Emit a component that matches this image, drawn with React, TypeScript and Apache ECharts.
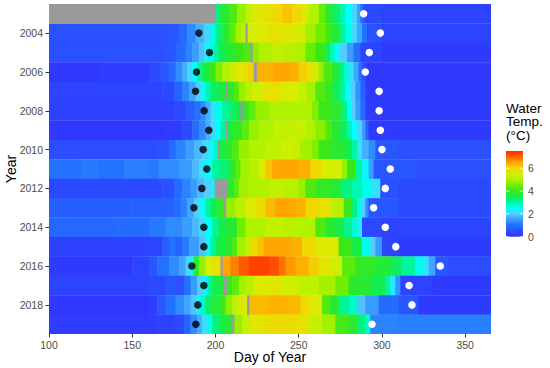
import React, { useEffect, useRef } from "react";
import * as echarts from "echarts";

// ---- data ----
const YEARS = ["2003","2004","2005","2006","2007","2008","2009","2010","2011","2012","2013","2014","2015","2016","2017","2018","2019"];
const X_TICKS = [100, 150, 200, 250, 300, 350];
const LEGEND_TICKS = [0, 2, 4, 6];
const LEGEND_TITLE = ["Water", "Temp.", "(°C)"];
const X_TITLE = "Day of Year";
const Y_TITLE = "Year";
const TEMP_MIN = 0;
const TEMP_MAX = 7.5;
const DAY_MIN = 100;
const DAY_MAX = 365.5;

// [start day, water temperature] ; null = no data (grey)
const T2003 = [[100,null],[200,3.2],[203,3.8],[208,4.2],[213,4.8],[218,5.2],[222,5.6],[228,5.8],[235,6.0],[240,6.2],[246,6.0],[252,5.6],[256,5.0],[262,4.4],[266,3.8],[271,3.3],[275,2.9],[278,2.5],[282,2.1],[285,1.5],[287,0.9],[289,0.4],[300,0.3]];
const T2004 = [[100,0.5],[172,0.6],[178,0.9],[183,1.3],[188,1.7],[193,2.1],[197,2.6],[200,3.2],[204,3.8],[208,4.3],[212,4.9],[216,5.2],[218,null],[219,5.5],[226,5.6],[232,5.8],[238,5.7],[245,5.6],[250,5.4],[254,4.9],[260,4.5],[266,4.1],[270,3.7],[275,3.0],[278,2.6],[282,2.1],[285,1.6],[288,1.0],[291,0.5],[300,0.3]];
const T2005 = [[100,0.5],[170,0.6],[176,0.9],[182,1.2],[186,1.5],[190,1.9],[193,2.3],[196,2.6],[199,3.0],[202,3.5],[206,3.8],[212,4.0],[217,4.2],[221,null],[222,4.7],[226,5.0],[234,5.2],[240,5.1],[248,5.0],[254,4.4],[260,4.0],[266,3.4],[269,2.8],[272,2.4],[275,2.0],[279,1.5],[283,1.0],[287,0.3],[300,0.15]];
const T2006 = [[100,0.1],[130,0.2],[160,0.4],[167,0.6],[172,0.9],[176,1.3],[180,1.7],[183,2.1],[186,2.5],[189,3.0],[192,3.6],[196,4.0],[200,4.6],[204,5.0],[208,5.3],[211,5.6],[215,5.8],[219,6.1],[223,null],[224.5,6.4],[235,6.5],[245,6.4],[250,6.1],[255,5.8],[259,5.4],[262,4.8],[265,4.2],[270,3.8],[274,3.2],[277,2.7],[280,2.2],[283,1.6],[286,1.0],[288,0.5],[290,0.1]];
const T2007 = [[100,0.3],[168,0.4],[175,0.8],[180,1.2],[184,1.6],[188,2.0],[191,2.4],[194,2.9],[197,3.4],[201,3.6],[206,null],[207,3.8],[211,4.2],[214,4.8],[218,5.1],[222,5.4],[228,5.7],[233,5.9],[238,5.6],[244,5.5],[250,5.2],[255,4.9],[260,4.2],[266,3.9],[271,3.4],[275,3.0],[278,2.5],[281,2.0],[284,1.4],[287,0.8],[290,0.15]];
const T2008 = [[100,0.25],[175,0.4],[182,0.7],[187,1.0],[191,1.3],[194,1.7],[197,2.2],[200,2.6],[204,3.0],[208,3.3],[212,3.6],[215,null],[216.5,3.9],[220,4.3],[224,4.8],[232,5.0],[240,5.0],[250,5.0],[258,4.6],[262,4.0],[270,3.8],[276,3.2],[279,2.5],[282,2.0],[284,1.5],[287,0.9],[290,0.15]];
const T2009 = [[100,0.1],[170,0.2],[180,0.4],[186,0.9],[190,1.3],[194,1.7],[197,2.1],[200,2.5],[203,3.0],[206,null],[207,3.6],[211,3.9],[216,4.3],[220,4.8],[226,5.0],[235,5.2],[245,5.3],[254,5.0],[260,4.7],[266,4.2],[270,3.8],[275,3.4],[279,2.9],[282,2.5],[285,2.0],[288,1.5],[290,0.8],[292,0.15]];
const T2010 = [[100,0.45],[165,0.5],[172,0.9],[176,1.2],[182,1.5],[187,1.8],[192,2.1],[196,2.4],[199,2.8],[201,null],[202,3.6],[206,3.8],[210,4.2],[214,4.8],[220,5.0],[230,5.2],[240,5.4],[246,5.3],[251,4.9],[258,4.6],[262,4.0],[270,3.8],[278,3.5],[282,3.0],[285,2.2],[288,1.7],[292,1.3],[296,0.6],[310,0.5]];
const T2011 = [[100,1.0],[120,1.1],[130,1.0],[145,1.15],[160,1.1],[166,1.3],[178,1.5],[186,1.8],[190,2.2],[194,2.5],[198,3.0],[203,3.3],[208,3.8],[212,4.3],[215,4.9],[220,5.1],[226,5.6],[230,6.2],[234,6.5],[250,6.4],[257,6.0],[264,5.5],[276,4.8],[279,4.0],[284,3.0],[288,2.4],[292,1.5],[295,0.6],[320,0.5]];
const T2012 = [[100,0.4],[168,0.5],[175,0.9],[180,1.2],[185,1.5],[189,1.8],[193,2.0],[197,2.3],[199.5,null],[207,3.8],[211,4.3],[214,4.9],[220,5.0],[232,5.2],[242,5.1],[250,4.8],[254,4.2],[260,3.9],[270,3.7],[276,3.2],[282,2.9],[288,2.6],[294,2.2],[299,0.5],[310,0.4]];
const T2013 = [[100,0.7],[150,0.75],[175,0.9],[179,1.2],[183,1.6],[187,2.0],[190,2.4],[194,3.0],[197,3.5],[201,3.9],[205,null],[206,4.8],[212,5.1],[218,5.6],[224,5.9],[230,6.3],[236,6.5],[248,6.4],[254,6.0],[262,5.8],[270,5.1],[277,4.0],[282,3.2],[285,2.6],[288,2.0],[290,1.3],[292,0.6],[310,0.4]];
const T2014 = [[100,0.85],[140,0.9],[160,1.1],[170,1.3],[180,1.5],[186,1.8],[190,2.1],[194,2.5],[198,3.1],[202,3.6],[207,3.8],[213,4.5],[218,5.0],[230,5.2],[242,5.1],[252,5.0],[260,4.2],[266,3.8],[272,3.6],[277,3.1],[282,2.7],[285,2.3],[288,0.4],[300,0.3]];
const T2015 = [[100,0.25],[155,0.3],[168,0.7],[172,1.0],[176,0.8],[180,1.1],[184,1.5],[190,1.9],[194,2.4],[197,3.0],[200,3.6],[206,3.8],[210,4.2],[213,4.9],[218,5.3],[221,5.9],[225,6.2],[229,6.5],[246,6.4],[252,6.0],[260,5.6],[274,4.0],[282,3.6],[288,2.6],[293,2.0],[296,1.5],[300,0.3],[310,0.15]];
const T2016 = [[100,0.15],[150,0.3],[160,0.6],[165,1.0],[172,1.3],[178,1.6],[182,2.0],[184,2.4],[187,3.8],[190,4.8],[194,5.5],[198,5.8],[203,null],[204,6.5],[209,6.8],[214,7.1],[220,7.3],[232,7.2],[238,6.9],[242,6.6],[248,6.4],[256,6.1],[262,5.7],[270,5.4],[276,4.3],[284,3.9],[296,3.7],[306,3.4],[312,3.0],[320,2.6],[325,2.2],[328,1.6],[332,0.6],[340,0.45]];
const T2017 = [[100,0.3],[160,0.4],[170,0.6],[176,0.5],[181,1.0],[185,1.5],[189,2.0],[192,2.4],[195,3.0],[198,3.5],[202,3.7],[205,null],[206.5,4.0],[210,4.3],[214,4.9],[218,5.1],[223,5.6],[232,5.7],[240,5.4],[250,5.2],[262,4.9],[272,4.5],[280,3.8],[294,3.5],[302,3.0],[305,2.3],[308,1.4],[311,0.3],[330,0.15]];
const T2018 = [[100,0.1],[160,0.2],[165,0.6],[170,1.0],[176,1.3],[181,1.6],[185,1.9],[188,2.3],[191,2.8],[194,3.4],[198,3.7],[203,4.0],[206,4.7],[210,5.2],[214,5.6],[219,null],[220,6.3],[232,6.4],[244,6.3],[251,6.0],[256,5.6],[264,4.2],[269,3.8],[274,3.1],[280,2.8],[285,1.9],[290,1.5],[298,0.9],[310,0.6],[322,0.15]];
const T2019 = [[100,0.2],[165,0.25],[175,0.35],[181,0.8],[185,1.3],[189,1.7],[192,2.2],[195,2.6],[198,3.2],[202,3.6],[206,3.8],[210,null],[211,4.8],[216,5.2],[221,5.7],[230,5.9],[240,5.9],[250,5.8],[256,5.3],[264,4.9],[272,4.1],[280,3.8],[285,3.2],[290,2.8],[293,1.2],[310,1.15]];

// Black dots (start day) and white dots (end day); null = missing
const BREAKUP_DAY = [null, 190, 196.4, 188.6, 188, 193.2, 196, 192.6, 194.8, 191.8, 187, 193, 193, 185.8, 193, 189.4, 188.2];
const FREEZE_DAY = [289, 299, 292.4, 290, 298.3, 298.3, 299, 300, 305, 302, 295, 302, 308.3, 335, 316.3, 318, 294];

// colour scale, evenly spaced from TEMP_MIN to TEMP_MAX
const TEMP_COLORS = ["#3131ff","#2a50ff","#2272ff","#3a9cff","#55ccff","#00ffff","#00f5a0","#10ee50","#3ae81a","#70ee00","#b0f200","#d6ef00","#f0d800","#ffa600","#ff6400","#ff2a00"];
const NA_COLOR = "#9a9a9a";

const ROWS = [T2003,T2004,T2005,T2006,T2007,T2008,T2009,T2010,T2011,T2012,T2013,T2014,T2015,T2016,T2017,T2018,T2019];

export default function App() {
  const ref = useRef<HTMLDivElement>(null);
  useEffect(() => {
    if (!ref.current) return;
    const chart = echarts.init(ref.current, null, { renderer: "svg" });

    const valueCells: any[] = [];
    const naCells: any[] = [];
    ROWS.forEach((segs: any[], yi) => {
      segs.forEach((s, i) => {
        const end = i < segs.length - 1 ? segs[i + 1][0] : DAY_MAX;
        if (s[1] === null) naCells.push([s[0], end, yi]);
        else valueCells.push([s[0], end, yi, s[1]]);
      });
    });

    const renderCell = (params: any, api: any) => {
      const yi = api.value(2);
      const p0 = api.coord([api.value(0), yi]);
      const p1 = api.coord([api.value(1), yi]);
      const h = api.size([0, 1])[1];
      return {
        type: "rect",
        shape: { x: p0[0], y: p0[1] - h / 2, width: p1[0] - p0[0] + 0.6, height: h + 0.3 },
        style: { fill: api.visual("color") },
      };
    };

    const breakup = BREAKUP_DAY.map((d, i) => (d == null ? null : [d, i])).filter((d) => d) as any[];
    const freeze = FREEZE_DAY.map((d, i) => (d == null ? null : [d, i])).filter((d) => d) as any[];

    const gridLeft = 49, gridRight = 59, gridTop = 4, gridBottom = 34;
    const barX = 506, barTop = 151, barW = 17, barH = 85.7;
    const valToY = (v: number) => barTop + barH - ((v - TEMP_MIN) / (TEMP_MAX - TEMP_MIN)) * barH;

    const font = "'Liberation Sans', Arial, sans-serif";
    const graphics: any[] = [
      {
        type: "rect",
        shape: { x: barX, y: barTop, width: barW, height: barH },
        style: {
          fill: new echarts.graphic.LinearGradient(0, 1, 0, 0,
            TEMP_COLORS.map((c, i) => ({ offset: i / (TEMP_COLORS.length - 1), color: c }))),
        },
      },
      {
        type: "text",
        x: 270,
        y: 357,
        style: { text: X_TITLE, fontSize: 14, fill: "#000", fontFamily: font, align: "center", verticalAlign: "middle" },
      },
      {
        type: "text",
        x: 11,
        y: 169,
        rotation: Math.PI / 2,
        style: { text: Y_TITLE, fontSize: 14, fill: "#000", fontFamily: font, align: "center", verticalAlign: "middle" },
      },
    ];
    LEGEND_TITLE.forEach((t, i) => {
      graphics.push({
        type: "text",
        x: 506,
        y: 108 + i * 13.6,
        style: { text: t, fontSize: 13.5, fill: "#000", fontFamily: font, verticalAlign: "middle" },
      });
    });
    LEGEND_TICKS.forEach((v) => {
      const y = valToY(v);
      graphics.push({ type: "line", shape: { x1: barX, y1: y, x2: barX + 3.4, y2: y }, style: { stroke: "#fff", lineWidth: 0.8 } });
      graphics.push({ type: "line", shape: { x1: barX + barW - 3.4, y1: y, x2: barX + barW, y2: y }, style: { stroke: "#fff", lineWidth: 0.8 } });
      graphics.push({
        type: "text",
        x: 528,
        y: y,
        style: { text: String(v), fontSize: 10.5, fill: "#4d4d4d", fontFamily: font, verticalAlign: "middle" },
      });
    });

    chart.setOption({
      animation: false,
      backgroundColor: "#fff",
      grid: { left: gridLeft, right: gridRight, top: gridTop, bottom: gridBottom, containLabel: false, outerBoundsMode: "none" },
      xAxis: {
        type: "value",
        min: DAY_MIN,
        max: DAY_MAX,
        axisLine: { show: false },
        axisTick: { show: true, length: 3.5, lineStyle: { color: "#333" }, customValues: X_TICKS },
        axisLabel: { fontSize: 10.5, color: "#4d4d4d", margin: 5, fontFamily: font, customValues: X_TICKS },
        splitLine: { show: false },
      },
      yAxis: {
        type: "category",
        data: YEARS,
        inverse: true,
        axisLine: { show: false },
        axisTick: {
          show: true,
          length: 3.5,
          alignWithLabel: true,
          interval: (i: number, v: string) => Number(v) % 2 === 0,
          lineStyle: { color: "#333" },
        },
        axisLabel: {
          fontSize: 10.5,
          color: "#4d4d4d",
          margin: 6,
          fontFamily: font,
          interval: (i: number, v: string) => Number(v) % 2 === 0,
        },
        splitLine: { show: false },
      },
      visualMap: {
        type: "continuous",
        show: false,
        min: TEMP_MIN,
        max: TEMP_MAX,
        dimension: 3,
        seriesIndex: [0],
        inRange: { color: TEMP_COLORS },
      },
      series: [
        {
          type: "custom",
          renderItem: renderCell,
          data: valueCells,
          encode: { x: [0, 1], y: 2 },
          clip: true,
          silent: true,
        },
        {
          type: "custom",
          renderItem: renderCell,
          data: naCells,
          itemStyle: { color: NA_COLOR },
          encode: { x: [0, 1], y: 2 },
          clip: true,
          silent: true,
        },
        {
          type: "scatter",
          data: breakup,
          symbolSize: 7.5,
          itemStyle: { color: "#000" },
          z: 5,
        },
        {
          type: "scatter",
          data: freeze,
          symbolSize: 7.5,
          itemStyle: { color: "#fff", opacity: 1 },
          z: 5,
        },
      ],
      graphic: graphics,
    });

    return () => chart.dispose();
  }, []);

  return <div ref={ref} style={{ position: "absolute", left: 0, top: 0, width: 550, height: 368 }} />;
}
